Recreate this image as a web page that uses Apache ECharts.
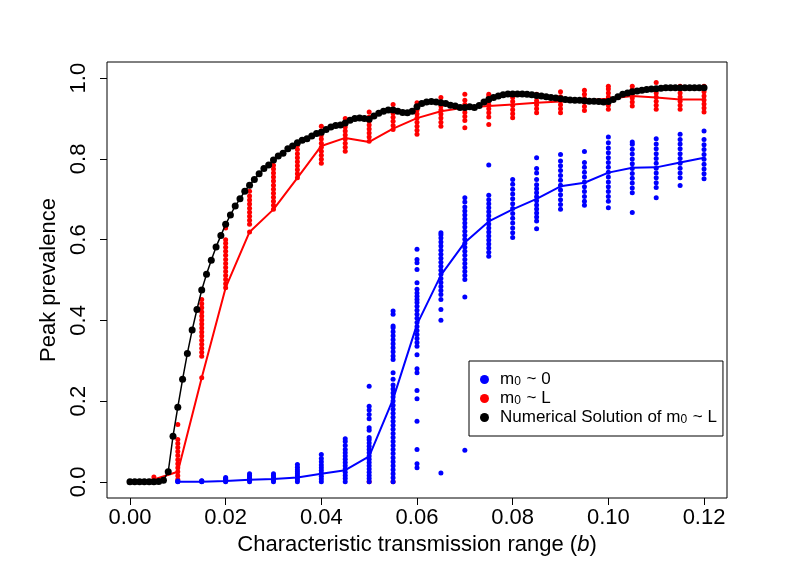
<!DOCTYPE html>
<html>
<head>
<meta charset="utf-8">
<script src="https://cdn.jsdelivr.net/npm/echarts@6.0.0/dist/echarts.min.js"></script>
<style>
  html, body { margin: 0; padding: 0; background: #fff; }
  #main { width: 789px; height: 576px; }
</style>
</head>
<body>
<div id="main"></div>
<script>
// tick labels
var xTicks = [0, 0.02, 0.04, 0.06, 0.08, 0.10, 0.12];
var yTicks = [0, 0.2, 0.4, 0.6, 0.8, 1.0];

// m0 ~ 0 : simulation runs per transmission range
var blueX = [0.01, 0.015, 0.02, 0.025, 0.03, 0.035, 0.04, 0.045, 0.05, 0.055, 0.06, 0.065,
  0.07, 0.075, 0.08, 0.085, 0.09, 0.095, 0.1, 0.105, 0.11, 0.115, 0.12];
var blueRuns = [
  [0, 0.001, 0.002],
  [0, 0.001, 0.002, 0.003],
  [0, 0.002, 0.004, 0.006, 0.008, 0.011],
  [0, 0.004, 0.008, 0.012, 0.016, 0.02],
  [0, 0.004, 0.008, 0.012, 0.016, 0.02],
  [0, 0.005, 0.01, 0.015, 0.02, 0.025, 0.03, 0.036, 0.043],
  [0, 0.007, 0.014, 0.021, 0.028, 0.035, 0.042, 0.05, 0.058, 0.068],
  [0, 0.008, 0.016, 0.024, 0.032, 0.04, 0.048, 0.056, 0.064, 0.072, 0.08, 0.09, 0.1, 0.107],
  [0, 0.008, 0.016, 0.024, 0.032, 0.04, 0.048, 0.056, 0.064, 0.072, 0.08, 0.088, 0.096, 0.104,
    0.11, 0.128, 0.134, 0.156, 0.167, 0.178, 0.187, 0.237],
  [0, 0.01, 0.02, 0.03, 0.04, 0.05, 0.06, 0.07, 0.08, 0.09, 0.1, 0.11, 0.12, 0.13, 0.14, 0.15,
    0.16, 0.17, 0.18, 0.19, 0.2, 0.21, 0.22, 0.23, 0.24, 0.254, 0.27, 0.303, 0.312, 0.322,
    0.332, 0.342, 0.352, 0.362, 0.372, 0.382, 0.386, 0.415, 0.423],
  [0.035, 0.045, 0.08, 0.15, 0.206, 0.226, 0.27, 0.28, 0.315, 0.336, 0.345, 0.355, 0.365,
    0.375, 0.385, 0.395, 0.405, 0.415, 0.425, 0.435, 0.444, 0.452, 0.46, 0.468, 0.477,
    0.493, 0.526, 0.543, 0.551, 0.576],
  [0.022, 0.4, 0.427, 0.452, 0.464, 0.474, 0.484, 0.494, 0.504, 0.514, 0.524, 0.534, 0.544,
    0.554, 0.564, 0.574, 0.584, 0.594, 0.604, 0.612, 0.617],
  [0.078, 0.458, 0.501, 0.511, 0.521, 0.531, 0.541, 0.551, 0.561, 0.571, 0.581, 0.591, 0.601,
    0.611, 0.621, 0.631, 0.641, 0.651, 0.661, 0.671, 0.681, 0.693, 0.704],
  [0.559, 0.569, 0.579, 0.589, 0.599, 0.609, 0.619, 0.629, 0.639, 0.649, 0.659, 0.669, 0.679,
    0.689, 0.699, 0.71, 0.785],
  [0.605, 0.617, 0.629, 0.641, 0.653, 0.665, 0.677, 0.689, 0.701, 0.713, 0.725, 0.737, 0.749],
  [0.627, 0.646, 0.656, 0.666, 0.676, 0.686, 0.696, 0.706, 0.716, 0.726, 0.736, 0.749, 0.765,
    0.776, 0.803],
  [0.675, 0.687, 0.699, 0.711, 0.723, 0.735, 0.747, 0.759, 0.771, 0.783, 0.795, 0.811],
  [0.685, 0.695, 0.707, 0.719, 0.731, 0.743, 0.755, 0.767, 0.779, 0.791, 0.818],
  [0.679, 0.695, 0.707, 0.719, 0.731, 0.743, 0.755, 0.767, 0.779, 0.791, 0.803, 0.815, 0.827,
    0.84, 0.854],
  [0.667, 0.716, 0.728, 0.74, 0.752, 0.764, 0.776, 0.788, 0.8, 0.812, 0.824, 0.836, 0.842],
  [0.704, 0.729, 0.741, 0.753, 0.765, 0.777, 0.789, 0.801, 0.813, 0.825, 0.837, 0.85],
  [0.734, 0.753, 0.765, 0.777, 0.789, 0.801, 0.813, 0.825, 0.837, 0.848, 0.861],
  [0.751, 0.763, 0.775, 0.787, 0.799, 0.811, 0.823, 0.835, 0.848, 0.869]
];
var blueLine = [0, 0, 0.002, 0.005, 0.007, 0.011, 0.02, 0.029, 0.063, 0.205, 0.39, 0.512,
  0.593, 0.645, 0.675, 0.701, 0.732, 0.741, 0.766, 0.778, 0.779, 0.791, 0.803];

// m0 ~ L
var redX = [0.005, 0.01, 0.015, 0.02, 0.025, 0.03, 0.035, 0.04, 0.045, 0.05, 0.055, 0.06,
  0.065, 0.07, 0.075, 0.08, 0.085, 0.09, 0.095, 0.1, 0.105, 0.11, 0.115, 0.12];
var redRuns = [
  [0, 0.006, 0.012],
  [0.006, 0.015, 0.025, 0.035, 0.045, 0.055, 0.065, 0.075, 0.085, 0.095, 0.105, 0.142],
  [0.258, 0.311, 0.321, 0.331, 0.341, 0.351, 0.361, 0.371, 0.381, 0.391, 0.401, 0.411, 0.421,
    0.431, 0.441, 0.452],
  [0.481, 0.491, 0.501, 0.511, 0.521, 0.531, 0.541, 0.551, 0.561, 0.571, 0.581, 0.591, 0.6, 0.629],
  [0.619, 0.638, 0.648, 0.658, 0.668, 0.678, 0.688, 0.698, 0.708, 0.72],
  [0.675, 0.685, 0.695, 0.705, 0.715, 0.725, 0.735, 0.745, 0.755, 0.765, 0.775, 0.784],
  [0.753, 0.763, 0.773, 0.783, 0.793, 0.803, 0.813, 0.823, 0.833, 0.84],
  [0.789, 0.799, 0.809, 0.819, 0.829, 0.839, 0.849, 0.859, 0.869, 0.881],
  [0.819, 0.829, 0.839, 0.849, 0.859, 0.869, 0.879, 0.889, 0.9],
  [0, 0.844, 0.854, 0.864, 0.874, 0.884, 0.894, 0.904, 0.916],
  [0, 0.873, 0.883, 0.893, 0.903, 0.913, 0.923, 0.935],
  [0.861, 0.871, 0.881, 0.891, 0.901, 0.911, 0.921, 0.931, 0.939],
  [0.881, 0.891, 0.901, 0.911, 0.921, 0.931, 0.941, 0.952],
  [0.877, 0.895, 0.905, 0.915, 0.925, 0.935, 0.945, 0.96],
  [0.885, 0.904, 0.914, 0.924, 0.934, 0.944, 0.954, 0.96],
  [0.902, 0.912, 0.922, 0.932, 0.942, 0.952, 0.956],
  [0.914, 0.924, 0.934, 0.944, 0.954, 0.96],
  [0.914, 0.924, 0.934, 0.944, 0.954, 0.966],
  [0.92, 0.93, 0.94, 0.95, 0.96, 0.97],
  [0.923, 0.933, 0.943, 0.953, 0.963, 0.973, 0.98],
  [0.931, 0.941, 0.951, 0.961, 0.971, 0.98],
  [0.923, 0.933, 0.943, 0.953, 0.963, 0.973, 0.989],
  [0.923, 0.933, 0.943, 0.953, 0.963, 0.973, 0.98],
  [0.916, 0.926, 0.936, 0.946, 0.956, 0.966, 0.98]
];
var redLine = [0.006, 0.025, 0.258, 0.481, 0.619, 0.675, 0.753, 0.832, 0.852, 0.842, 0.875,
  0.901, 0.918, 0.927, 0.931, 0.935, 0.939, 0.942, 0.945, 0.949, 0.956, 0.952, 0.947, 0.947];

// numerical solution, b = 0.000 .. 0.120 in steps of 0.001
var numStep = 0.001;
var numValues = [
  0, 0, 0, 0, 0, 0, 0.001, 0.004, 0.025, 0.113,
  0.185, 0.254, 0.318, 0.376, 0.427, 0.475, 0.514, 0.549, 0.582, 0.610,
  0.638, 0.661, 0.683, 0.701, 0.720, 0.735, 0.749, 0.763, 0.776, 0.785,
  0.797, 0.807, 0.814, 0.825, 0.832, 0.840, 0.846, 0.850, 0.857, 0.863,
  0.866, 0.873, 0.879, 0.883, 0.884, 0.889, 0.896, 0.900, 0.901, 0.900,
  0.898, 0.906, 0.913, 0.918, 0.921, 0.921, 0.918, 0.915, 0.914, 0.918,
  0.929, 0.937, 0.941, 0.942, 0.941, 0.939, 0.937, 0.933, 0.931, 0.927,
  0.927, 0.929, 0.927, 0.932, 0.941, 0.947, 0.952, 0.956, 0.959, 0.961,
  0.961, 0.961, 0.961, 0.960, 0.959, 0.957, 0.956, 0.954, 0.952, 0.951,
  0.949, 0.947, 0.946, 0.945, 0.945, 0.944, 0.943, 0.943, 0.942, 0.941,
  0.942, 0.947, 0.954, 0.960, 0.963, 0.966, 0.968, 0.970, 0.972, 0.973,
  0.974, 0.975, 0.976, 0.976, 0.976, 0.976, 0.976, 0.976, 0.976, 0.976,
  0.976
];

function runsToPoints(xs, runs) {
  var pts = [];
  xs.forEach(function (x, i) {
    runs[i].forEach(function (v) { pts.push([x, v]); });
  });
  return pts;
}
function pair(xs, ys) {
  return xs.map(function (x, i) { return [x, ys[i]]; });
}

var FONT = '"Liberation Sans", Arial, Helvetica, sans-serif';
var chart = echarts.init(document.getElementById('main'), null, { renderer: 'canvas' });

var legendNames = {
  'm0 ~ 0': 'm{s|0} ~ 0',
  'm0 ~ L': 'm{s|0} ~ L',
  'Numerical Solution of m0 ~ L': 'Numerical Solution of m{s|0} ~ L'
};

var option = {
  animation: false,
  backgroundColor: '#fff',
  grid: {
    left: 107, top: 62, width: 620, height: 436,
    show: true, borderColor: '#000', borderWidth: 1, backgroundColor: 'transparent'
  },
  xAxis: {
    type: 'value',
    min: -0.0048, max: 0.1248,
    splitLine: { show: false },
    axisLine: { show: false, onZero: false },
    axisTick: { show: true, length: 7, customValues: xTicks, lineStyle: { color: '#000', width: 1 } },
    axisLabel: {
      customValues: xTicks, color: '#000', fontSize: 22, fontFamily: FONT, margin: 9,
      formatter: function (v) { return v.toFixed(2); }
    },
    name: 'Characteristic transmission range ({i|b})',
    nameLocation: 'middle',
    nameGap: 33,
    nameTextStyle: {
      color: '#000', fontSize: 22, fontFamily: FONT,
      rich: { i: { fontStyle: 'italic', fontSize: 22, fontFamily: FONT, color: '#000' } }
    }
  },
  yAxis: {
    type: 'value',
    min: -0.04, max: 1.04,
    splitLine: { show: false },
    axisLine: { show: false, onZero: false },
    axisTick: { show: true, length: 7, customValues: yTicks, lineStyle: { color: '#000', width: 1 } },
    axisLabel: {
      customValues: yTicks, color: '#000', fontSize: 22, fontFamily: FONT, margin: 17, rotate: 90,
      formatter: function (v) { return v.toFixed(1); }
    },
    name: 'Peak prevalence',
    nameLocation: 'middle',
    nameGap: 39,
    nameTextStyle: { color: '#000', fontSize: 22, fontFamily: FONT }
  },
  legend: {
    data: ['m0 ~ 0', 'm0 ~ L', 'Numerical Solution of m0 ~ L'],
    orient: 'vertical',
    left: 469, top: 361,
    padding: [10, 6, 10, 11],
    itemWidth: 9, itemHeight: 9,
    itemGap: 2,
    icon: 'circle',
    borderColor: '#000', borderWidth: 1, backgroundColor: '#fff',
    formatter: function (name) { return legendNames[name]; },
    textStyle: {
      color: '#000', fontSize: 17, fontFamily: FONT, lineHeight: 17, padding: [0, 0, 0, 6],
      rich: { s: { fontSize: 12, fontFamily: FONT, color: '#000', lineHeight: 12, verticalAlign: 'bottom', padding: [0, 1, 0, 0] } }
    }
  },
  series: [
    {
      name: 'm0 ~ L', type: 'scatter', data: runsToPoints(redX, redRuns),
      symbolSize: 5, itemStyle: { color: '#ff0000', opacity: 1 }
    },
    {
      name: 'redLine', type: 'line', data: pair(redX, redLine), symbol: 'none',
      lineStyle: { color: '#ff0000', width: 2 }
    },
    {
      name: 'm0 ~ 0', type: 'scatter', data: runsToPoints(blueX, blueRuns),
      symbolSize: 5, itemStyle: { color: '#0000ff', opacity: 1 }
    },
    {
      name: 'blueLine', type: 'line', data: pair(blueX, blueLine), symbol: 'none',
      lineStyle: { color: '#0000ff', width: 2 }
    },
    {
      name: 'Numerical Solution of m0 ~ L', type: 'line',
      data: numValues.map(function (v, i) { return [i * numStep, v]; }),
      symbol: 'circle', symbolSize: 7, showSymbol: true, showAllSymbol: true,
      itemStyle: { color: '#000' },
      lineStyle: { color: '#000', width: 1.5 }
    }
  ]
};

chart.setOption(option);
</script>
</body>
</html>
